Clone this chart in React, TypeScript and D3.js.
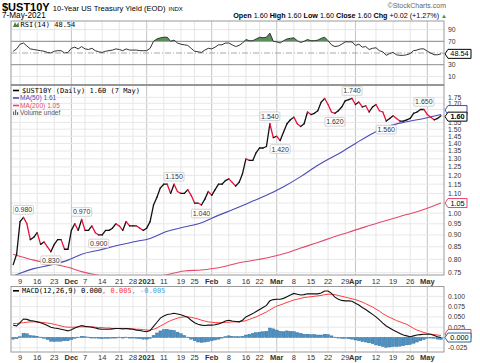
import React from "react";
import * as d3 from "d3";

const DATES = [
  "2020-11-05","2020-11-06","2020-11-09","2020-11-10","2020-11-11","2020-11-12","2020-11-13","2020-11-16","2020-11-17","2020-11-18","2020-11-19","2020-11-20","2020-11-23","2020-11-24","2020-11-25","2020-11-27","2020-11-30",
  "2020-12-01","2020-12-02","2020-12-03","2020-12-04","2020-12-07","2020-12-08","2020-12-09","2020-12-10","2020-12-11","2020-12-14","2020-12-15","2020-12-16","2020-12-17","2020-12-18","2020-12-21","2020-12-22","2020-12-23","2020-12-24","2020-12-28","2020-12-29","2020-12-30","2020-12-31",
  "2021-01-04","2021-01-05","2021-01-06","2021-01-07","2021-01-08","2021-01-11","2021-01-12","2021-01-13","2021-01-14","2021-01-15","2021-01-19","2021-01-20","2021-01-21","2021-01-22","2021-01-25","2021-01-26","2021-01-27","2021-01-28","2021-01-29",
  "2021-02-01","2021-02-02","2021-02-03","2021-02-04","2021-02-05","2021-02-08","2021-02-09","2021-02-10","2021-02-11","2021-02-12","2021-02-16","2021-02-17","2021-02-18","2021-02-19","2021-02-22","2021-02-23","2021-02-24","2021-02-25","2021-02-26",
  "2021-03-01","2021-03-02","2021-03-03","2021-03-04","2021-03-05","2021-03-08","2021-03-09","2021-03-10","2021-03-11","2021-03-12","2021-03-15","2021-03-16","2021-03-17","2021-03-18","2021-03-19","2021-03-22","2021-03-23","2021-03-24","2021-03-25","2021-03-26","2021-03-29","2021-03-30","2021-03-31",
  "2021-04-01","2021-04-05","2021-04-06","2021-04-07","2021-04-08","2021-04-09","2021-04-12","2021-04-13","2021-04-14","2021-04-15","2021-04-16","2021-04-19","2021-04-20","2021-04-21","2021-04-22","2021-04-23","2021-04-26","2021-04-27","2021-04-28","2021-04-29","2021-04-30",
  "2021-05-03","2021-05-04","2021-05-05","2021-05-06","2021-05-07",
];

const CLOSE = [
  0.78, 0.82, 0.96, 0.98, 0.95, 0.88, 0.89, 0.91, 0.86, 0.87, 0.85, 0.83, 0.86, 0.88, 0.88, 0.84, 0.84,
  0.92, 0.95, 0.92, 0.97, 0.92, 0.92, 0.94, 0.91, 0.90, 0.90, 0.92, 0.92, 0.93, 0.95, 0.94, 0.92, 0.96, 0.94, 0.94, 0.94, 0.93, 0.92,
  0.93, 0.96, 1.04, 1.08, 1.13, 1.15, 1.15, 1.10, 1.15, 1.11, 1.10, 1.10, 1.12, 1.09, 1.05, 1.05, 1.04, 1.07, 1.11,
  1.09, 1.12, 1.15, 1.15, 1.17, 1.18, 1.16, 1.14, 1.16, 1.21, 1.30, 1.29, 1.29, 1.34, 1.37, 1.37, 1.38, 1.54, 1.44,
  1.45, 1.42, 1.48, 1.54, 1.57, 1.59, 1.54, 1.52, 1.54, 1.63, 1.61, 1.62, 1.64, 1.71, 1.74, 1.69, 1.63, 1.62, 1.64, 1.67, 1.72, 1.73, 1.74,
  1.69, 1.71, 1.67, 1.68, 1.63, 1.67, 1.69, 1.64, 1.63, 1.56, 1.58, 1.60, 1.58, 1.56, 1.56, 1.57, 1.58, 1.62, 1.63, 1.65, 1.65,
  1.61, 1.59, 1.57, 1.58, 1.60,
];

const MA50_DATES = ["2020-11-05","2020-11-09","2020-11-13","2020-11-20","2020-11-30","2020-12-04","2020-12-11","2020-12-18","2020-12-28","2021-01-05","2021-01-12","2021-01-20","2021-01-27","2021-02-01","2021-02-11","2021-02-18","2021-02-24","2021-03-03","2021-03-10","2021-03-17","2021-03-19","2021-03-26","2021-04-01","2021-04-09","2021-04-16","2021-04-23","2021-04-30","2021-05-07"];
const MA50_VALUES = [0.738, 0.748, 0.765, 0.779, 0.797, 0.820, 0.836, 0.854, 0.870, 0.885, 0.916, 0.935, 0.955, 0.976, 1.030, 1.060, 1.090, 1.136, 1.193, 1.260, 1.285, 1.344, 1.400, 1.470, 1.525, 1.555, 1.580, 1.610];

const MA200_DATES = ["2020-11-05","2020-11-13","2020-11-20","2020-11-30","2020-12-04","2020-12-09","2020-12-18","2020-12-31","2021-01-08","2021-01-20","2021-01-27","2021-02-03","2021-02-11","2021-02-24","2021-03-03","2021-03-10","2021-03-17","2021-03-23","2021-03-30","2021-04-07","2021-04-14","2021-04-21","2021-04-28","2021-05-04","2021-05-07"];
const MA200_VALUES = [0.820, 0.797, 0.784, 0.770, 0.754, 0.745, 0.733, 0.730, 0.738, 0.756, 0.760, 0.768, 0.787, 0.805, 0.822, 0.845, 0.868, 0.888, 0.912, 0.937, 0.960, 0.984, 1.007, 1.030, 1.050];

const RSI14 = [
  53, 57, 65, 67, 62, 57, 56, 55, 54, 53, 51, 50, 53, 54, 54, 50, 51,
  58, 60, 57, 61, 57, 56, 58, 54, 52, 51, 53, 54, 55, 57, 56, 54, 57, 55, 55, 55, 54, 54,
  54, 58, 70, 74, 76, 77, 77, 70, 72, 67, 65, 64, 63, 58, 53, 52, 51, 55, 58,
  57, 60, 64, 64, 67, 67, 64, 61, 63, 67, 73, 71, 71, 74, 77, 76, 77, 84, 70,
  69, 67, 71, 74, 75, 76, 71, 68, 70, 73, 71, 71, 72, 75, 77, 71, 64, 61, 62, 65, 69, 69, 69,
  63, 65, 60, 61, 56, 58, 59, 54, 52, 46, 49, 51, 47, 46, 46, 47, 49, 54, 55, 57, 57,
  53, 50, 47, 47, 48.54,
];

const MACD_LINE = [
  0.030, 0.028, 0.036, 0.045, 0.044, 0.041, 0.040, 0.038, 0.036, 0.033, 0.029, 0.025, 0.023, 0.022, 0.020, 0.018, 0.016,
  0.019, 0.023, 0.026, 0.029, 0.027, 0.026, 0.025, 0.023, 0.021, 0.020, 0.020, 0.020, 0.021, 0.022, 0.022, 0.021, 0.022, 0.021, 0.020, 0.018, 0.017, 0.015,
  0.014, 0.017, 0.027, 0.037, 0.047, 0.052, 0.056, 0.057, 0.059, 0.057, 0.055, 0.052, 0.049, 0.042, 0.036, 0.032, 0.030, 0.029, 0.030,
  0.030, 0.031, 0.033, 0.036, 0.040, 0.042, 0.040, 0.039, 0.038, 0.042, 0.050, 0.054, 0.058, 0.063, 0.068, 0.073, 0.078, 0.089, 0.092,
  0.093, 0.093, 0.095, 0.099, 0.103, 0.107, 0.105, 0.103, 0.104, 0.106, 0.106, 0.106, 0.106, 0.108, 0.113, 0.113, 0.107, 0.098, 0.093, 0.090, 0.089, 0.089, 0.088,
  0.083, 0.079, 0.073, 0.068, 0.062, 0.056, 0.050, 0.043, 0.035, 0.028, 0.023, 0.018, 0.014, 0.010, 0.006, 0.004, 0.002, 0.004, 0.006, 0.007, 0.008,
  0.008, 0.008, 0.005, 0.002, 0.000,
];

const MACD_SIGNAL = [
  0.034, 0.034, 0.035, 0.036, 0.037, 0.038, 0.038, 0.038, 0.037, 0.036, 0.035, 0.034, 0.032, 0.030, 0.028, 0.026, 0.025,
  0.025, 0.025, 0.026, 0.026, 0.026, 0.026, 0.026, 0.025, 0.024, 0.024, 0.023, 0.023, 0.022, 0.022, 0.022, 0.022, 0.022, 0.021, 0.021, 0.020, 0.020, 0.019,
  0.018, 0.018, 0.020, 0.023, 0.028, 0.032, 0.037, 0.041, 0.044, 0.047, 0.049, 0.050, 0.050, 0.049, 0.047, 0.045, 0.042, 0.040, 0.038,
  0.037, 0.036, 0.036, 0.036, 0.037, 0.037, 0.038, 0.038, 0.038, 0.039, 0.041, 0.044, 0.047, 0.050, 0.054, 0.058, 0.062, 0.067, 0.072,
  0.076, 0.079, 0.082, 0.085, 0.088, 0.091, 0.093, 0.095, 0.097, 0.098, 0.099, 0.100, 0.101, 0.102, 0.104, 0.105, 0.105, 0.104, 0.102, 0.100, 0.098, 0.096, 0.094,
  0.092, 0.089, 0.086, 0.082, 0.078, 0.074, 0.069, 0.064, 0.058, 0.053, 0.049, 0.045, 0.041, 0.038, 0.035, 0.032, 0.027, 0.022, 0.018, 0.015, 0.012,
  0.010, 0.008, 0.007, 0.006, 0.005,
];

const MACD_HIST = [
  -0.004, -0.003, 0.002, 0.010, 0.009, 0.005, 0.004, 0.003, 0.001, -0.002, -0.005, -0.009, -0.010, -0.009, -0.009, -0.008, -0.008,
  -0.005, -0.002, 0.001, 0.003, 0.002, 0.001, 0.000, -0.001, -0.002, -0.003, -0.002, -0.002, -0.001, 0.000, 0.001, 0.000, 0.001, 0.000, -0.001, -0.002, -0.003, -0.004,
  -0.004, -0.002, 0.005, 0.011, 0.016, 0.019, 0.020, 0.018, 0.017, 0.013, 0.009, 0.005, 0.001, -0.004, -0.008, -0.011, -0.012, -0.011, -0.010,
  -0.008, -0.006, -0.004, -0.001, 0.002, 0.004, 0.003, 0.002, 0.002, 0.003, 0.006, 0.008, 0.010, 0.012, 0.013, 0.014, 0.015, 0.023, 0.021,
  0.018, 0.015, 0.014, 0.016, 0.015, 0.014, 0.012, 0.010, 0.008, 0.008, 0.007, 0.007, 0.006, 0.006, 0.008, 0.007, 0.004, 0.001, -0.001, -0.002, -0.002, -0.003, -0.004,
  -0.006, -0.008, -0.010, -0.011, -0.013, -0.015, -0.018, -0.020, -0.022, -0.024, -0.023, -0.022, -0.022, -0.021, -0.020, -0.018, -0.017, -0.014, -0.011, -0.008, -0.005,
  -0.002, -0.001, -0.002, -0.004, -0.005,
];

const TICK_DATES = ["2020-11-09","2020-11-16","2020-11-23","2020-12-01","2020-12-07","2020-12-14","2020-12-21","2020-12-28","2021-01-04","2021-01-11","2021-01-19","2021-01-25","2021-02-01","2021-02-08","2021-02-16","2021-02-22","2021-03-01","2021-03-08","2021-03-15","2021-03-22","2021-03-29","2021-04-01","2021-04-12","2021-04-19","2021-04-26","2021-05-03"];
const TICK_LABELS = ["9","16","23","Dec","7","14","21","28","2021","11","19","25","Feb","8","16","22","Mar","8","15","22","29","Apr","12","19","26","May"];

const PRICE_TICKS = [0.75, 0.8, 0.85, 0.9, 0.95, 1.0, 1.05, 1.1, 1.15, 1.2, 1.25, 1.3, 1.35, 1.4, 1.45, 1.5, 1.55, 1.6, 1.65, 1.7, 1.75];
const RSI_TICKS = [90, 70, 30, 10];
const MACD_TICKS = [0.1, 0.075, 0.05, 0.025, 0, -0.025];

const PEAK_DATES = ["2020-11-10","2020-11-20","2020-12-04","2020-12-11","2021-01-14","2021-01-27","2021-02-25","2021-03-02","2021-03-24","2021-03-31","2021-04-15","2021-04-30"];
const PEAK_SIDES = ["above","below","above","below","above","below","above","below","below","above","below","above"];

const SANS = "'Liberation Sans', Arial, sans-serif";
const MONO = "'DejaVu Sans Mono', monospace";

const PRICE_UP = "#111111";
const PRICE_DN = "#e8103c";
const MA50_C = "#4a4ab8";
const MA200_C = "#e5486a";
const SIG_C = "#ff3b3b";
const HIST_C = "#4b91c4";
const AXIS_FS = 6.8;

function ValueBox({ y, text, stroke, color = "#000", bold = true, showText = true }: any) {
  const x0 = 445;
  const w = 6 + text.length * 4;
  const h = 9;
  const d = `M${x0},${y} L${x0 + 3},${y - h / 2} L${x0 + w},${y - h / 2} L${x0 + w},${y + h / 2} L${x0 + 3},${y + h / 2} Z`;
  return (
    <g>
      <path d={d} fill="#fff" stroke={stroke} strokeWidth={1} />
      {showText && (
        <text x={x0 + 3 + (w - 3) / 2} y={y + 2.6} textAnchor="middle" fontFamily={SANS} fontSize={7.3} fontWeight={bold ? "bold" : "normal"} fill={color}>{text}</text>
      )}
    </g>
  );
}

export default function App() {
  const L = 11, R = 444;
  const x = d3.scalePoint<string>().domain(DATES).range([13.2, 441]);
  const rsiTop = 21, rsiBot = 85;
  const mainTop = 85, mainBot = 275;
  const macdTop = 286.5, macdBot = 352;
  const yR = d3.scaleLinear().domain([0, 100]).range([82.25, 23.75]);
  const yP = d3.scaleLog().domain([0.75, 1.75]).range([272.7, 97.3]);
  const yM = d3.scaleLinear().domain([0, 0.1]).range([337.5, 296.3]);

  const isMonth = (l: string) => !/^\d{1,2}$/.test(l);

  const vGrid = (top: number, bot: number) =>
    TICK_DATES.map((d, i) => (
      <line key={"vg" + top + i} x1={x(d)} x2={x(d)} y1={top} y2={bot}
        stroke={isMonth(TICK_LABELS[i]) ? "#c4c4c4" : "#e6e6e6"} strokeWidth={1} />
    ));

  const xLabels = (yy: number) =>
    TICK_DATES.map((d, i) => (
      <text key={"xl" + yy + i} x={x(d)} y={yy} textAnchor="middle" fontFamily={SANS}
        fontSize={7.5} fontWeight={isMonth(TICK_LABELS[i]) ? "bold" : "normal"} fill="#333">{TICK_LABELS[i]}</text>
    ));

  const segs = DATES.slice(1).map((d, i) => ({
    x1: x(DATES[i])!, y1: yP(CLOSE[i]), x2: x(d)!, y2: yP(CLOSE[i + 1]), up: CLOSE[i + 1] >= CLOSE[i],
  }));

  const ma50Line = d3.line<number>().x((_, i) => x(MA50_DATES[i])!).y((v) => yP(v)).curve(d3.curveMonotoneX);
  const ma200Line = d3.line<number>().x((_, i) => x(MA200_DATES[i])!).y((v) => yP(v)).curve(d3.curveMonotoneX);

  const rsiLine = d3.line<number>().x((_, i) => x(DATES[i])!).y((v) => yR(v));
  const rsiArea = d3.area<number>().x((_, i) => x(DATES[i])!).y0(yR(70)).y1((v) => yR(v));

  const macdLine = d3.line<number>().x((_, i) => x(DATES[i])!).y((v) => yM(v));

  const lastClose = CLOSE[CLOSE.length - 1];
  const lastMA50 = MA50_VALUES[MA50_VALUES.length - 1];
  const lastMA200 = MA200_VALUES[MA200_VALUES.length - 1];
  const lastRSI = RSI14[RSI14.length - 1];
  const lastMacd = MACD_LINE[MACD_LINE.length - 1];
  const lastSig = MACD_SIGNAL[MACD_SIGNAL.length - 1];
  const lastHist = MACD_HIST[MACD_HIST.length - 1];

  const closeBoxY = yP(lastClose) + 0.8;
  const ma50BoxY = yP(lastMA50) - 4.5;
  const ma200BoxY = yP(lastMA200);
  const priceBoxes = [closeBoxY, ma50BoxY, ma200BoxY];
  const macdBoxes = [yM(lastMacd), yM(lastSig)];
  const free = (yy: number, boxes: number[]) => boxes.every((b) => Math.abs(b - yy) > 5);

  const barW = 2.9;

  return (
    <svg width={480} height={363} style={{ position: "absolute", left: 0, top: 0, background: "#fff" }}>
      <defs>
        <clipPath id="clipRsi"><rect x={L} y={rsiTop} width={R - L} height={rsiBot - rsiTop} /></clipPath>
        <clipPath id="clipRsiUp"><rect x={L} y={rsiTop} width={R - L} height={yR(70) - rsiTop} /></clipPath>
        <clipPath id="clipMain"><rect x={L} y={mainTop} width={R - L} height={mainBot - mainTop} /></clipPath>
        <clipPath id="clipMacd"><rect x={L} y={macdTop} width={R - L} height={macdBot - macdTop} /></clipPath>
      </defs>
      <rect x={0} y={0} width={480} height={363} fill="#fff" />

      {/* Header */}
      <text x={2} y={10.5} fontFamily={SANS} fill="#000">
        <tspan fontSize={11} fontWeight="bold">$UST10Y</tspan>
        <tspan fontSize={7.6} dx={3}>10-Year US Treasury Yield (EOD)</tspan>
        <tspan fontSize={6} dx={3}>INDX</tspan>
      </text>
      <text x={2} y={18.2} fontFamily={SANS} fontSize={8.2} fill="#000">7-May-2021</text>
      <text x={446} y={8.2} textAnchor="end" fontFamily={SANS} fontSize={7} fill="#666">©StockCharts.com</text>
      <text x={447} y={18.2} textAnchor="end" fontFamily={SANS} fontSize={7.2} fill="#000">
        <tspan fontWeight="bold">Open</tspan><tspan> 1.60 </tspan>
        <tspan fontWeight="bold">High</tspan><tspan> 1.60 </tspan>
        <tspan fontWeight="bold">Low</tspan><tspan> 1.60 </tspan>
        <tspan fontWeight="bold">Close</tspan><tspan> 1.60 </tspan>
        <tspan fontWeight="bold">Chg</tspan><tspan> +0.02 (+1.27%) </tspan>
        <tspan fill="#2a9a2a" fontSize={6}>▲</tspan>
      </text>

      {/* ===== RSI panel ===== */}
      <g>
        {vGrid(rsiTop, rsiBot)}
        {[90, 10].map((t) => (
          <line key={"rg" + t} x1={L} x2={R} y1={yR(t)} y2={yR(t)} stroke="#e6e6e6" />
        ))}
        <line x1={L} x2={R} y1={yR(70)} y2={yR(70)} stroke="#8c8c8c" strokeWidth={1} />
        <line x1={L} x2={R} y1={yR(30)} y2={yR(30)} stroke="#8c8c8c" strokeWidth={1} />
        <line x1={L} x2={R} y1={yR(50)} y2={yR(50)} stroke="#a8a8a8" strokeWidth={1} strokeDasharray="6,2,1,2" />
        <g clipPath="url(#clipRsi)">
          <path d={rsiArea(RSI14)!} fill="#5c8f5c" clipPath="url(#clipRsiUp)" />
          <path d={rsiLine(RSI14)!} fill="none" stroke="#333" strokeWidth={1} />
        </g>
        <rect x={L} y={rsiTop} width={R - L} height={rsiBot - rsiTop} fill="none" stroke="#9a9a9a" />
        <path d="M13,27 L15,22 L16.5,25 L18.5,22 L19,27 Z" fill="#4d7f4d" />
        <text x={20.5} y={27} fontFamily={MONO} fontSize={7} fill="#000">RSI(14) {lastRSI.toFixed(2)}</text>
        {RSI_TICKS.map((t) => (
          <text key={"rt" + t} x={448} y={yR(t) + 2.4} fontFamily={SANS} fontSize={AXIS_FS} fill="#333">{t}</text>
        ))}
        <ValueBox y={yR(lastRSI)} text={lastRSI.toFixed(2)} stroke="#000" bold={false} />
      </g>

      {/* ===== Main price panel ===== */}
      <g>
        {vGrid(mainTop, mainBot)}
        {PRICE_TICKS.map((t) => (
          <line key={"pg" + t} x1={L} x2={R} y1={yP(t)} y2={yP(t)} stroke="#e8e8e8" />
        ))}
        <g clipPath="url(#clipMain)">
          <path d={ma200Line(MA200_VALUES)!} fill="none" stroke={MA200_C} strokeWidth={1.1} />
          <path d={ma50Line(MA50_VALUES)!} fill="none" stroke={MA50_C} strokeWidth={1.1} />
          {segs.map((s, i) => (
            <line key={"s" + i} x1={s.x1} y1={s.y1} x2={s.x2} y2={s.y2}
              stroke={s.up ? PRICE_UP : PRICE_DN} strokeWidth={1.3} strokeLinecap="round" />
          ))}
        </g>
        {PEAK_DATES.map((d, i) => {
          const idx = DATES.indexOf(d);
          const v = CLOSE[idx];
          const px = x(d)!;
          const py = yP(v) + (PEAK_SIDES[i] === "above" ? -7.5 : 8.5);
          return (
            <g key={"pk" + i}>
              <rect x={px - 10} y={py - 4.3} width={20} height={8.6} fill="#fff" stroke="#c8c8c8" strokeWidth={0.8} rx={1} />
              <text x={px} y={py + 2.5} textAnchor="middle" fontFamily={SANS} fontSize={7} fill="#333">{v.toFixed(3)}</text>
            </g>
          );
        })}
        <rect x={L} y={mainTop} width={R - L} height={mainBot - mainTop} fill="none" stroke="#9a9a9a" />
        <line x1={L} x2={R} y1={mainTop} y2={mainTop} stroke="#8c8c8c" strokeWidth={1.5} />
        <line x1={13} x2={19} y1={90.5} y2={90.5} stroke="#000" strokeWidth={1.6} />
        <text x={22} y={93} fontFamily={MONO} fontSize={7} fill="#000">$UST10Y (Daily) {lastClose.toFixed(2)} (7 May)</text>
        <line x1={13} x2={19} y1={98} y2={98} stroke={MA50_C} strokeWidth={1.6} />
        <text x={20} y={100.3} fontFamily={SANS} fontSize={6.6} fill={MA50_C}>MA(50) {lastMA50.toFixed(2)}</text>
        <line x1={13} x2={19} y1={105.5} y2={105.5} stroke={MA200_C} strokeWidth={1.6} />
        <text x={20} y={107.8} fontFamily={SANS} fontSize={6.6} fill={MA200_C}>MA(200) {lastMA200.toFixed(2)}</text>
        <rect x={13} y={111.5} width={1.2} height={3.5} fill="#666" />
        <rect x={15} y={110} width={1.2} height={5} fill="#666" />
        <rect x={17} y={112} width={1.2} height={3} fill="#666" />
        <text x={20} y={115.3} fontFamily={SANS} fontSize={6.6} fill="#555">Volume undef</text>
        {PRICE_TICKS.filter((t) => free(yP(t), priceBoxes)).map((t) => (
          <text key={"pt" + t} x={448} y={yP(t) + 2.4} fontFamily={SANS} fontSize={AXIS_FS} fill="#333">{t.toFixed(2)}</text>
        ))}
        <ValueBox y={ma200BoxY} text={lastMA200.toFixed(2)} stroke={MA200_C} color="#000" bold={false} />
        <ValueBox y={ma50BoxY} text={lastMA50.toFixed(2)} stroke={MA50_C} color="#000" bold={false} showText={false} />
        <ValueBox y={closeBoxY} text={lastClose.toFixed(2)} stroke="#000" bold={true} />
      </g>

      {xLabels(283.5)}

      {/* ===== MACD panel ===== */}
      <g>
        {vGrid(macdTop, macdBot)}
        {MACD_TICKS.map((t) => (
          <line key={"mg" + t} x1={L} x2={R} y1={yM(t)} y2={yM(t)} stroke="#e8e8e8" />
        ))}
        <g clipPath="url(#clipMacd)">
          {MACD_HIST.map((h, i) => (
            <rect key={"h" + i} x={x(DATES[i])! - barW / 2} width={barW}
              y={Math.min(yM(h), yM(0))} height={Math.max(0.6, Math.abs(yM(h) - yM(0)))}
              fill={HIST_C} stroke="#2b6592" strokeWidth={0.4} />
          ))}
          <path d={macdLine(MACD_SIGNAL)!} fill="none" stroke={SIG_C} strokeWidth={1} />
          <path d={macdLine(MACD_LINE)!} fill="none" stroke="#111" strokeWidth={1.1} />
        </g>
        <rect x={L} y={macdTop} width={R - L} height={macdBot - macdTop} fill="none" stroke="#9a9a9a" />
        <line x1={13} x2={19} y1={290.8} y2={290.8} stroke="#000" strokeWidth={1.6} />
        <text x={22} y={293} fontFamily={MONO} fontSize={7} fill="#000">
          MACD(12,26,9) {lastMacd.toFixed(3)}
          <tspan fill={SIG_C}>, {lastSig.toFixed(3)}</tspan>
          <tspan fill="#4aa3db">, {lastHist.toFixed(3)}</tspan>
        </text>
        {MACD_TICKS.filter((t) => free(yM(t), macdBoxes)).map((t) => (
          <text key={"mt" + t} x={448} y={yM(t) + 2.4} fontFamily={SANS} fontSize={AXIS_FS} fill="#333">{t.toFixed(3)}</text>
        ))}
        <ValueBox y={yM(lastSig) - 1.5} text={lastSig.toFixed(3)} stroke={SIG_C} color="#000" bold={false} showText={false} />
        <ValueBox y={yM(lastMacd)} text={lastMacd.toFixed(3)} stroke="#2b6592" color="#000" bold={false} />
      </g>

      {xLabels(360)}
    </svg>
  );
}
